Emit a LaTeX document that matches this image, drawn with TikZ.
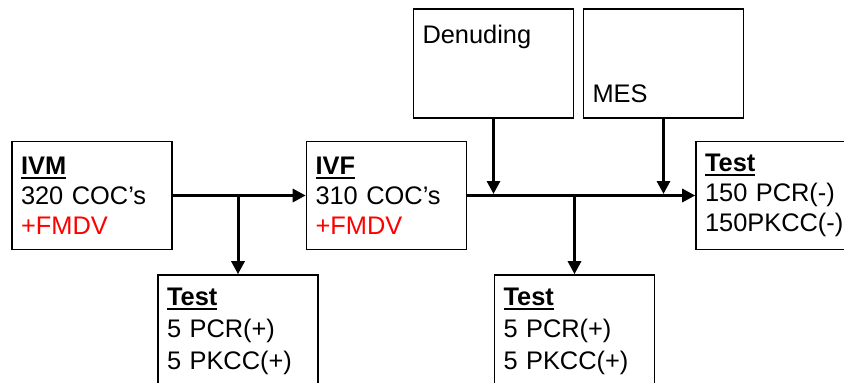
\documentclass[tikz,border=0pt]{standalone}
\usepackage{fontspec}
\setmainfont{Liberation Sans}
\usetikzlibrary{arrows.meta}
\newcommand{\headword}[1]{\setbox0\hbox{\textbf{#1}}\rlap{\rule[-4.5pt]{\wd0}{2pt}}\box0}

\begin{document}
\begin{tikzpicture}[x=1pt, y=-1pt,
	stage/.style={draw, line width=1.6pt, minimum width=160pt, minimum height=108pt,
		inner xsep=9pt, text width=142pt, align=left, font=\fontsize{25.4}{30}\selectfont},
	lowstage/.style={stage, minimum height=112pt, font=\fontsize{25.4}{32}\selectfont},
	link/.style={line width=3pt, -{Triangle[length=13pt,width=13pt]}}]
	\useasboundingbox (0,0) rectangle (844,383);
	\clip (0,0) rectangle (844,383);
	\node[stage] (ivm) at (92, 195.5) {\headword{IVM}\\320 COC’s\\\textcolor{red}{+FMDV}};
	\node[stage] (ivf) at (386.5, 195.5) {\headword{IVF}\\310 COC’s\\\textcolor{red}{+FMDV}};
	\node[stage, inner ysep=0pt, text height=34pt, text depth=75pt] (denud) at (493.5, 63.5) {Denuding};
	\node[stage, inner ysep=0pt, text height=93pt, text depth=16pt] (mes) at (663.5, 63.5) {MES};
	\node[stage] (final) at (776, 195.5) {\headword{Test}\\150 PCR(-)\\150PKCC(-)};
	\node[lowstage] (testa) at (238, 331) {\headword{Test}\\5 PCR(+)\\5 PKCC(+)};
	\node[lowstage] (testb) at (574.5, 331) {\headword{Test}\\5 PCR(+)\\5 PKCC(+)};
	\draw[link] (ivm) -- (ivf);
	\draw[link] (testa.north |- ivm.east) -- (testa);
	\draw[link] (ivf) -- (final);
	\draw[link] (testb.north |- ivf.east) -- (testb);
	\draw[link, shorten >=1.5pt] (denud) -- (denud.south |- ivf.east);
	\draw[link, shorten >=1.5pt] (mes) -- (mes.south |- ivf.east);
\end{tikzpicture}
\end{document}
